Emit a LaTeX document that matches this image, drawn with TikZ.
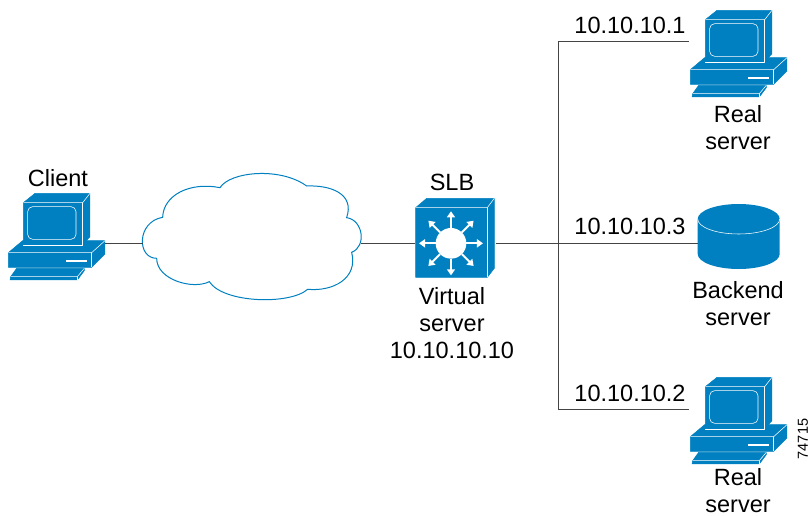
\documentclass[tikz,border=0pt]{standalone}
\usepackage{fontspec}
\setmainfont{Liberation Sans}
\usetikzlibrary{arrows.meta}
\definecolor{cisco}{HTML}{0080C0}
\definecolor{wire}{HTML}{444444}
\tikzset{
  x=1pt,y=-1pt,
  part/.style={fill=cisco,draw=cisco,line width=0.5pt,line join=round},
  edge/.style={draw=white,line width=0.55pt,line join=round},
  zoomed/.style={x=0.3333pt,y=-0.3333pt},
  label/.style={font=\fontsize{23.5}{26}\selectfont,inner sep=0pt,align=center},
  wireline/.style={draw=wire,line width=0.9pt},
  anchorbox/.style={inner sep=0pt,outer sep=0pt,minimum width=#1},
  ray/.style={draw=white,line width=2pt,-{Triangle[length=6pt,width=8pt]}}
}
\newcommand{\pcicon}[2]{%
  \begin{scope}[shift={(#1pt,-#2pt)},zoomed]
    \path[part] (25,218) -- (68,182) -- (315,182) -- (315,222) -- (275,262) -- (25,262) -- cycle;
    \draw[edge] (25,218) -- (275,218) -- (315,182);
    \draw[edge] (275,218) -- (275,262);
    \path[fill=white] (198,240) rectangle (262,246);
    \path[part] (50,265) -- (253,265) -- (253,272) -- (232,300) -- (30,300) -- (32,290) -- cycle;
    \draw[edge] (32,290) -- (232,290) -- (253,265);
    \draw[edge] (232,290) -- (232,300);
    \path[part] (70,68) -- (105,40) -- (270,40) -- (270,170) -- (248,195) -- (70,195) -- cycle;
    \draw[edge] (70,68) -- (248,68) -- (270,40);
    \draw[edge] (248,68) -- (248,195) -- (70,195);
    \draw[edge,rounded corners=5pt] (83,80) rectangle (228,178);
  \end{scope}}
\begin{document}
\begin{tikzpicture}
\useasboundingbox (0,0) rectangle (809,516);
% computers
\pcicon{0}{180}
\pcicon{682}{-3}
\pcicon{682}{364}
\node[anchorbox=98,minimum height=30] (client) at (56,243) {};
\node[anchorbox=98,minimum height=30] (realone) at (738,41) {};
\node[anchorbox=98,minimum height=30] (realtwo) at (738,409) {};
% cloud
\begin{scope}[shift={(130pt,-165pt)},zoomed]
  \path[fill=white,draw=cisco,line width=1pt,line join=miter]
    (98,157) .. controls (100,90) and (180,50) .. (270,68)
    .. controls (300,20) and (450,5) .. (530,63)
    .. controls (600,60) and (675,85) .. (650,158)
    .. controls (700,165) and (710,245) .. (665,262)
    .. controls (685,340) and (610,380) .. (533,373)
    .. controls (480,420) and (280,415) .. (238,350)
    .. controls (190,375) and (80,345) .. (80,280)
    .. controls (20,280) and (20,170) .. (98,157) -- cycle;
\end{scope}
\node[anchorbox=218,minimum height=20] (cloud) at (252,243) {};
% switch
\begin{scope}[shift={(400pt,-185pt)},zoomed]
  \path[part] (47,68) -- (80,40) -- (283,40) -- (283,250) -- (262,277) -- (47,277) -- cycle;
  \draw[edge] (47,68) -- (262,68) -- (283,40);
  \draw[edge] (262,68) -- (262,277);
  \foreach \a in {0,45,...,315}
    \draw[ray] (153,175) ++(\a:46) -- ++(\a:50);
  \path[fill=white] (153,175) circle[radius=46];
\end{scope}
\node[anchorbox=81,minimum height=30] (slb) at (455.5,243) {};
% disk
\path[fill=cisco] (697.7,219) -- (697.7,254) arc[start angle=180,end angle=0,x radius=41,y radius=15] -- (779.7,219) -- cycle;
\path[fill=cisco] (738.7,219) ellipse[x radius=41,y radius=15];
\draw[edge] (697.7,219) arc[start angle=180,end angle=0,x radius=41,y radius=15];
\node[anchorbox=82,minimum height=20] (backend) at (738.7,243) {};
% junction coordinates
\coordinate (top) at (558,41);
\coordinate (bottom) at (558,409);
% connectors
\draw[wireline] (client.east) -- (cloud.west);
\draw[wireline] (cloud.east) -- (slb.west);
\draw[wireline] (slb.east) -- (backend.west);
\draw[wireline] (realone.west) -- (top) -- (bottom) -- (realtwo.west);
% labels
\node[label] (lclient) at (58,178) {Client};
\node[label] (lslb) at (452,182) {SLB};
\node[label] (lvirtual) at (452,323) {Virtual\\[1pt]server\\[1pt]10.10.10.10};
\node[label] (lone) at (630,25) {10.10.10.1};
\node[label] (lthree) at (630,226) {10.10.10.3};
\node[label] (ltwo) at (630,393) {10.10.10.2};
\node[label] (lrealone) at (738,128) {Real\\[1pt]server};
\node[label] (lbackend) at (738,304) {Backend\\[1pt]server};
\node[label] (lrealtwo) at (738,491) {Real\\[1pt]server};
\node[inner sep=0pt,font=\fontsize{14.5}{15}\selectfont,rotate=90] (fig) at (803,439) {74715};
\end{tikzpicture}
\end{document}
